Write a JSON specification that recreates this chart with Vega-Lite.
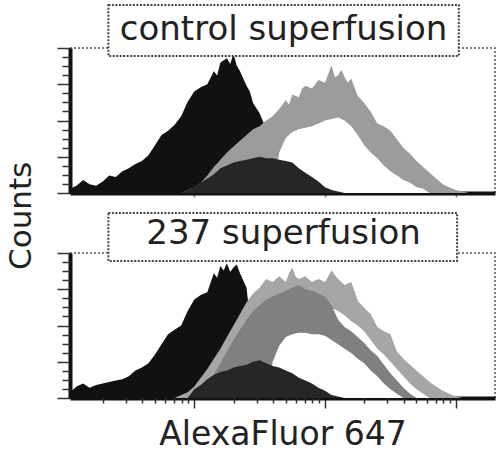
{
  "$schema": "https://vega.github.io/schema/vega-lite/v6.json",
  "bounds": "flush",
  "spacing": 60,
  "padding": {"left": 5, "top": 3, "right": 3, "bottom": 3},
  "background": "white",
  "config": {
    "view": {"stroke": "#555", "strokeWidth": 1.5, "strokeDash": [2, 2]},
    "axis": {"grid": false, "labels": false, "domain": false, "tickColor": "#333", "tickWidth": 1.5}
  },
  "title": {"text": "Counts", "orient": "left", "anchor": "middle", "font": "DejaVu Sans", "fontSize": 31, "fontWeight": "normal", "color": "#222", "offset": 18, "dx": 12},
  "datasets": {
    "hist": [
      {"panel":"top","series":"A","logF":0.05,"count":3},{"panel":"top","series":"A","logF":0.1,"count":5},{"panel":"top","series":"A","logF":0.15,"count":9},{"panel":"top","series":"A","logF":0.2,"count":6},{"panel":"top","series":"A","logF":0.25,"count":5},{"panel":"top","series":"A","logF":0.3,"count":8},{"panel":"top","series":"A","logF":0.35,"count":12},{"panel":"top","series":"A","logF":0.4,"count":11},{"panel":"top","series":"A","logF":0.45,"count":15},{"panel":"top","series":"A","logF":0.5,"count":17},{"panel":"top","series":"A","logF":0.55,"count":20},{"panel":"top","series":"A","logF":0.6,"count":22},{"panel":"top","series":"A","logF":0.65,"count":26},{"panel":"top","series":"A","logF":0.7,"count":33},{"panel":"top","series":"A","logF":0.75,"count":40},{"panel":"top","series":"A","logF":0.8,"count":43},{"panel":"top","series":"A","logF":0.85,"count":47},{"panel":"top","series":"A","logF":0.9,"count":53},{"panel":"top","series":"A","logF":0.95,"count":63},{"panel":"top","series":"A","logF":1.0,"count":70},{"panel":"top","series":"A","logF":1.05,"count":73},{"panel":"top","series":"A","logF":1.1,"count":75},{"panel":"top","series":"A","logF":1.15,"count":84},{"panel":"top","series":"A","logF":1.175,"count":81},{"panel":"top","series":"A","logF":1.2,"count":90},{"panel":"top","series":"A","logF":1.25,"count":93},{"panel":"top","series":"A","logF":1.275,"count":89},{"panel":"top","series":"A","logF":1.3,"count":96},{"panel":"top","series":"A","logF":1.325,"count":88},{"panel":"top","series":"A","logF":1.35,"count":84},{"panel":"top","series":"A","logF":1.375,"count":79},{"panel":"top","series":"A","logF":1.4,"count":74},{"panel":"top","series":"A","logF":1.425,"count":70},{"panel":"top","series":"A","logF":1.45,"count":62},{"panel":"top","series":"A","logF":1.5,"count":55},{"panel":"top","series":"A","logF":1.55,"count":44},{"panel":"top","series":"A","logF":1.6,"count":30},{"panel":"top","series":"A","logF":1.65,"count":18},{"panel":"top","series":"A","logF":1.7,"count":10},{"panel":"top","series":"A","logF":1.75,"count":4},{"panel":"top","series":"A","logF":1.8,"count":1},{"panel":"top","series":"A","logF":1.85,"count":0},

      {"panel":"top","series":"C","logF":0.9,"count":0},{"panel":"top","series":"C","logF":0.95,"count":2},{"panel":"top","series":"C","logF":1.0,"count":4},{"panel":"top","series":"C","logF":1.05,"count":7},{"panel":"top","series":"C","logF":1.1,"count":12},{"panel":"top","series":"C","logF":1.15,"count":18},{"panel":"top","series":"C","logF":1.2,"count":23},{"panel":"top","series":"C","logF":1.25,"count":28},{"panel":"top","series":"C","logF":1.3,"count":32},{"panel":"top","series":"C","logF":1.35,"count":36},{"panel":"top","series":"C","logF":1.4,"count":40},{"panel":"top","series":"C","logF":1.45,"count":44},{"panel":"top","series":"C","logF":1.5,"count":46},{"panel":"top","series":"C","logF":1.55,"count":50},{"panel":"top","series":"C","logF":1.6,"count":53},{"panel":"top","series":"C","logF":1.65,"count":58},{"panel":"top","series":"C","logF":1.7,"count":64},{"panel":"top","series":"C","logF":1.725,"count":61},{"panel":"top","series":"C","logF":1.75,"count":68},{"panel":"top","series":"C","logF":1.8,"count":66},{"panel":"top","series":"C","logF":1.825,"count":72},{"panel":"top","series":"C","logF":1.85,"count":74},{"panel":"top","series":"C","logF":1.9,"count":72},{"panel":"top","series":"C","logF":1.95,"count":78},{"panel":"top","series":"C","logF":2.0,"count":76},{"panel":"top","series":"C","logF":2.025,"count":82},{"panel":"top","series":"C","logF":2.05,"count":88},{"panel":"top","series":"C","logF":2.075,"count":80},{"panel":"top","series":"C","logF":2.1,"count":81},{"panel":"top","series":"C","logF":2.125,"count":85},{"panel":"top","series":"C","logF":2.15,"count":80},{"panel":"top","series":"C","logF":2.175,"count":76},{"panel":"top","series":"C","logF":2.2,"count":79},{"panel":"top","series":"C","logF":2.25,"count":67},{"panel":"top","series":"C","logF":2.3,"count":62},{"panel":"top","series":"C","logF":2.35,"count":56},{"panel":"top","series":"C","logF":2.4,"count":48},{"panel":"top","series":"C","logF":2.45,"count":46},{"panel":"top","series":"C","logF":2.5,"count":43},{"panel":"top","series":"C","logF":2.55,"count":37},{"panel":"top","series":"C","logF":2.6,"count":31},{"panel":"top","series":"C","logF":2.65,"count":27},{"panel":"top","series":"C","logF":2.7,"count":22},{"panel":"top","series":"C","logF":2.75,"count":18},{"panel":"top","series":"C","logF":2.8,"count":14},{"panel":"top","series":"C","logF":2.85,"count":10},{"panel":"top","series":"C","logF":2.9,"count":6},{"panel":"top","series":"C","logF":2.95,"count":4},{"panel":"top","series":"C","logF":3.0,"count":2},{"panel":"top","series":"C","logF":3.05,"count":1},{"panel":"top","series":"C","logF":3.1,"count":0},

      {"panel":"top","series":"D","logF":1.6,"count":0},{"panel":"top","series":"D","logF":1.65,"count":28},{"panel":"top","series":"D","logF":1.7,"count":38},{"panel":"top","series":"D","logF":1.75,"count":42},{"panel":"top","series":"D","logF":1.8,"count":44},{"panel":"top","series":"D","logF":1.85,"count":45},{"panel":"top","series":"D","logF":1.9,"count":46},{"panel":"top","series":"D","logF":1.95,"count":48},{"panel":"top","series":"D","logF":2.0,"count":50},{"panel":"top","series":"D","logF":2.05,"count":51},{"panel":"top","series":"D","logF":2.1,"count":52},{"panel":"top","series":"D","logF":2.15,"count":50},{"panel":"top","series":"D","logF":2.2,"count":46},{"panel":"top","series":"D","logF":2.25,"count":40},{"panel":"top","series":"D","logF":2.3,"count":33},{"panel":"top","series":"D","logF":2.35,"count":28},{"panel":"top","series":"D","logF":2.4,"count":24},{"panel":"top","series":"D","logF":2.45,"count":19},{"panel":"top","series":"D","logF":2.5,"count":15},{"panel":"top","series":"D","logF":2.55,"count":12},{"panel":"top","series":"D","logF":2.6,"count":9},{"panel":"top","series":"D","logF":2.65,"count":7},{"panel":"top","series":"D","logF":2.7,"count":4},{"panel":"top","series":"D","logF":2.75,"count":3},{"panel":"top","series":"D","logF":2.8,"count":0},

      {"panel":"top","series":"B","logF":0.9,"count":0},{"panel":"top","series":"B","logF":1.0,"count":4},{"panel":"top","series":"B","logF":1.05,"count":7},{"panel":"top","series":"B","logF":1.1,"count":10},{"panel":"top","series":"B","logF":1.15,"count":13},{"panel":"top","series":"B","logF":1.2,"count":17},{"panel":"top","series":"B","logF":1.25,"count":19},{"panel":"top","series":"B","logF":1.3,"count":21},{"panel":"top","series":"B","logF":1.35,"count":22},{"panel":"top","series":"B","logF":1.4,"count":23},{"panel":"top","series":"B","logF":1.45,"count":24},{"panel":"top","series":"B","logF":1.5,"count":25},{"panel":"top","series":"B","logF":1.55,"count":24},{"panel":"top","series":"B","logF":1.6,"count":24},{"panel":"top","series":"B","logF":1.65,"count":23},{"panel":"top","series":"B","logF":1.7,"count":22},{"panel":"top","series":"B","logF":1.75,"count":21},{"panel":"top","series":"B","logF":1.8,"count":17},{"panel":"top","series":"B","logF":1.85,"count":14},{"panel":"top","series":"B","logF":1.9,"count":11},{"panel":"top","series":"B","logF":1.95,"count":8},{"panel":"top","series":"B","logF":2.0,"count":4},{"panel":"top","series":"B","logF":2.05,"count":2},{"panel":"top","series":"B","logF":2.1,"count":1},{"panel":"top","series":"B","logF":2.15,"count":0},

      {"panel":"bottom","series":"A","logF":0.05,"count":4},{"panel":"bottom","series":"A","logF":0.1,"count":8},{"panel":"bottom","series":"A","logF":0.15,"count":10},{"panel":"bottom","series":"A","logF":0.2,"count":7},{"panel":"bottom","series":"A","logF":0.25,"count":9},{"panel":"bottom","series":"A","logF":0.3,"count":10},{"panel":"bottom","series":"A","logF":0.35,"count":11},{"panel":"bottom","series":"A","logF":0.4,"count":12},{"panel":"bottom","series":"A","logF":0.45,"count":13},{"panel":"bottom","series":"A","logF":0.5,"count":15},{"panel":"bottom","series":"A","logF":0.55,"count":19},{"panel":"bottom","series":"A","logF":0.6,"count":21},{"panel":"bottom","series":"A","logF":0.65,"count":24},{"panel":"bottom","series":"A","logF":0.7,"count":30},{"panel":"bottom","series":"A","logF":0.75,"count":37},{"panel":"bottom","series":"A","logF":0.8,"count":44},{"panel":"bottom","series":"A","logF":0.85,"count":47},{"panel":"bottom","series":"A","logF":0.9,"count":50},{"panel":"bottom","series":"A","logF":0.95,"count":60},{"panel":"bottom","series":"A","logF":1.0,"count":68},{"panel":"bottom","series":"A","logF":1.05,"count":71},{"panel":"bottom","series":"A","logF":1.1,"count":73},{"panel":"bottom","series":"A","logF":1.15,"count":86},{"panel":"bottom","series":"A","logF":1.175,"count":83},{"panel":"bottom","series":"A","logF":1.2,"count":91},{"panel":"bottom","series":"A","logF":1.225,"count":88},{"panel":"bottom","series":"A","logF":1.25,"count":93},{"panel":"bottom","series":"A","logF":1.275,"count":87},{"panel":"bottom","series":"A","logF":1.3,"count":90},{"panel":"bottom","series":"A","logF":1.325,"count":92},{"panel":"bottom","series":"A","logF":1.35,"count":86},{"panel":"bottom","series":"A","logF":1.4,"count":76},{"panel":"bottom","series":"A","logF":1.45,"count":35},{"panel":"bottom","series":"A","logF":1.5,"count":28},{"panel":"bottom","series":"A","logF":1.55,"count":20},{"panel":"bottom","series":"A","logF":1.6,"count":12},{"panel":"bottom","series":"A","logF":1.65,"count":5},{"panel":"bottom","series":"A","logF":1.7,"count":0},

      {"panel":"bottom","series":"C","logF":0.85,"count":0},{"panel":"bottom","series":"C","logF":0.9,"count":2},{"panel":"bottom","series":"C","logF":0.95,"count":4},{"panel":"bottom","series":"C","logF":1.0,"count":8},{"panel":"bottom","series":"C","logF":1.05,"count":14},{"panel":"bottom","series":"C","logF":1.1,"count":20},{"panel":"bottom","series":"C","logF":1.15,"count":27},{"panel":"bottom","series":"C","logF":1.2,"count":34},{"panel":"bottom","series":"C","logF":1.25,"count":42},{"panel":"bottom","series":"C","logF":1.3,"count":50},{"panel":"bottom","series":"C","logF":1.35,"count":58},{"panel":"bottom","series":"C","logF":1.4,"count":66},{"panel":"bottom","series":"C","logF":1.45,"count":72},{"panel":"bottom","series":"C","logF":1.5,"count":76},{"panel":"bottom","series":"C","logF":1.55,"count":82},{"panel":"bottom","series":"C","logF":1.6,"count":80},{"panel":"bottom","series":"C","logF":1.65,"count":84},{"panel":"bottom","series":"C","logF":1.7,"count":80},{"panel":"bottom","series":"C","logF":1.725,"count":86},{"panel":"bottom","series":"C","logF":1.75,"count":90},{"panel":"bottom","series":"C","logF":1.775,"count":84},{"panel":"bottom","series":"C","logF":1.8,"count":82},{"panel":"bottom","series":"C","logF":1.85,"count":84},{"panel":"bottom","series":"C","logF":1.9,"count":80},{"panel":"bottom","series":"C","logF":1.95,"count":82},{"panel":"bottom","series":"C","logF":2.0,"count":80},{"panel":"bottom","series":"C","logF":2.025,"count":84},{"panel":"bottom","series":"C","logF":2.05,"count":88},{"panel":"bottom","series":"C","logF":2.1,"count":82},{"panel":"bottom","series":"C","logF":2.15,"count":78},{"panel":"bottom","series":"C","logF":2.2,"count":80},{"panel":"bottom","series":"C","logF":2.225,"count":74},{"panel":"bottom","series":"C","logF":2.25,"count":67},{"panel":"bottom","series":"C","logF":2.3,"count":62},{"panel":"bottom","series":"C","logF":2.35,"count":58},{"panel":"bottom","series":"C","logF":2.4,"count":49},{"panel":"bottom","series":"C","logF":2.45,"count":46},{"panel":"bottom","series":"C","logF":2.5,"count":44},{"panel":"bottom","series":"C","logF":2.55,"count":32},{"panel":"bottom","series":"C","logF":2.6,"count":27},{"panel":"bottom","series":"C","logF":2.65,"count":23},{"panel":"bottom","series":"C","logF":2.7,"count":19},{"panel":"bottom","series":"C","logF":2.75,"count":15},{"panel":"bottom","series":"C","logF":2.8,"count":11},{"panel":"bottom","series":"C","logF":2.85,"count":8},{"panel":"bottom","series":"C","logF":2.9,"count":5},{"panel":"bottom","series":"C","logF":2.95,"count":3},{"panel":"bottom","series":"C","logF":3.0,"count":1},{"panel":"bottom","series":"C","logF":3.05,"count":0},

      {"panel":"bottom","series":"W1","logF":1.2,"count":0},{"panel":"bottom","series":"W1","logF":1.3,"count":15},{"panel":"bottom","series":"W1","logF":1.4,"count":30},{"panel":"bottom","series":"W1","logF":1.5,"count":45},{"panel":"bottom","series":"W1","logF":1.6,"count":55},{"panel":"bottom","series":"W1","logF":1.7,"count":60},{"panel":"bottom","series":"W1","logF":1.8,"count":62},{"panel":"bottom","series":"W1","logF":1.9,"count":63},{"panel":"bottom","series":"W1","logF":2.0,"count":63},{"panel":"bottom","series":"W1","logF":2.05,"count":62},{"panel":"bottom","series":"W1","logF":2.1,"count":60},{"panel":"bottom","series":"W1","logF":2.15,"count":57},{"panel":"bottom","series":"W1","logF":2.2,"count":53},{"panel":"bottom","series":"W1","logF":2.25,"count":50},{"panel":"bottom","series":"W1","logF":2.3,"count":46},{"panel":"bottom","series":"W1","logF":2.35,"count":40},{"panel":"bottom","series":"W1","logF":2.4,"count":34},{"panel":"bottom","series":"W1","logF":2.45,"count":30},{"panel":"bottom","series":"W1","logF":2.5,"count":25},{"panel":"bottom","series":"W1","logF":2.55,"count":20},{"panel":"bottom","series":"W1","logF":2.6,"count":15},{"panel":"bottom","series":"W1","logF":2.65,"count":10},{"panel":"bottom","series":"W1","logF":2.7,"count":6},{"panel":"bottom","series":"W1","logF":2.75,"count":3},{"panel":"bottom","series":"W1","logF":2.8,"count":0},

      {"panel":"bottom","series":"C2","logF":0.95,"count":0},{"panel":"bottom","series":"C2","logF":1.0,"count":3},{"panel":"bottom","series":"C2","logF":1.05,"count":6},{"panel":"bottom","series":"C2","logF":1.1,"count":10},{"panel":"bottom","series":"C2","logF":1.15,"count":16},{"panel":"bottom","series":"C2","logF":1.2,"count":24},{"panel":"bottom","series":"C2","logF":1.25,"count":32},{"panel":"bottom","series":"C2","logF":1.3,"count":40},{"panel":"bottom","series":"C2","logF":1.35,"count":47},{"panel":"bottom","series":"C2","logF":1.4,"count":54},{"panel":"bottom","series":"C2","logF":1.45,"count":60},{"panel":"bottom","series":"C2","logF":1.5,"count":64},{"panel":"bottom","series":"C2","logF":1.55,"count":68},{"panel":"bottom","series":"C2","logF":1.6,"count":70},{"panel":"bottom","series":"C2","logF":1.65,"count":72},{"panel":"bottom","series":"C2","logF":1.7,"count":74},{"panel":"bottom","series":"C2","logF":1.75,"count":76},{"panel":"bottom","series":"C2","logF":1.8,"count":78},{"panel":"bottom","series":"C2","logF":1.85,"count":75},{"panel":"bottom","series":"C2","logF":1.9,"count":74},{"panel":"bottom","series":"C2","logF":1.95,"count":72},{"panel":"bottom","series":"C2","logF":2.0,"count":70},{"panel":"bottom","series":"C2","logF":2.05,"count":64},{"panel":"bottom","series":"C2","logF":2.1,"count":54},{"panel":"bottom","series":"C2","logF":2.15,"count":49},{"panel":"bottom","series":"C2","logF":2.2,"count":46},{"panel":"bottom","series":"C2","logF":2.25,"count":42},{"panel":"bottom","series":"C2","logF":2.3,"count":38},{"panel":"bottom","series":"C2","logF":2.35,"count":33},{"panel":"bottom","series":"C2","logF":2.4,"count":29},{"panel":"bottom","series":"C2","logF":2.45,"count":23},{"panel":"bottom","series":"C2","logF":2.5,"count":17},{"panel":"bottom","series":"C2","logF":2.55,"count":12},{"panel":"bottom","series":"C2","logF":2.6,"count":7},{"panel":"bottom","series":"C2","logF":2.65,"count":3},{"panel":"bottom","series":"C2","logF":2.7,"count":0},

      {"panel":"bottom","series":"W2","logF":1.55,"count":0},{"panel":"bottom","series":"W2","logF":1.6,"count":25},{"panel":"bottom","series":"W2","logF":1.65,"count":36},{"panel":"bottom","series":"W2","logF":1.7,"count":42},{"panel":"bottom","series":"W2","logF":1.75,"count":44},{"panel":"bottom","series":"W2","logF":1.8,"count":45},{"panel":"bottom","series":"W2","logF":1.85,"count":45},{"panel":"bottom","series":"W2","logF":1.9,"count":44},{"panel":"bottom","series":"W2","logF":1.95,"count":44},{"panel":"bottom","series":"W2","logF":2.0,"count":43},{"panel":"bottom","series":"W2","logF":2.05,"count":40},{"panel":"bottom","series":"W2","logF":2.1,"count":37},{"panel":"bottom","series":"W2","logF":2.15,"count":34},{"panel":"bottom","series":"W2","logF":2.2,"count":31},{"panel":"bottom","series":"W2","logF":2.25,"count":27},{"panel":"bottom","series":"W2","logF":2.3,"count":24},{"panel":"bottom","series":"W2","logF":2.35,"count":19},{"panel":"bottom","series":"W2","logF":2.4,"count":15},{"panel":"bottom","series":"W2","logF":2.45,"count":10},{"panel":"bottom","series":"W2","logF":2.5,"count":6},{"panel":"bottom","series":"W2","logF":2.55,"count":3},{"panel":"bottom","series":"W2","logF":2.6,"count":0},

      {"panel":"bottom","series":"B","logF":0.95,"count":0},{"panel":"bottom","series":"B","logF":1.0,"count":6},{"panel":"bottom","series":"B","logF":1.05,"count":9},{"panel":"bottom","series":"B","logF":1.1,"count":13},{"panel":"bottom","series":"B","logF":1.15,"count":16},{"panel":"bottom","series":"B","logF":1.2,"count":18},{"panel":"bottom","series":"B","logF":1.25,"count":19},{"panel":"bottom","series":"B","logF":1.3,"count":21},{"panel":"bottom","series":"B","logF":1.35,"count":22},{"panel":"bottom","series":"B","logF":1.4,"count":23},{"panel":"bottom","series":"B","logF":1.45,"count":25},{"panel":"bottom","series":"B","logF":1.5,"count":26},{"panel":"bottom","series":"B","logF":1.55,"count":24},{"panel":"bottom","series":"B","logF":1.6,"count":22},{"panel":"bottom","series":"B","logF":1.65,"count":21},{"panel":"bottom","series":"B","logF":1.7,"count":19},{"panel":"bottom","series":"B","logF":1.75,"count":17},{"panel":"bottom","series":"B","logF":1.8,"count":14},{"panel":"bottom","series":"B","logF":1.85,"count":12},{"panel":"bottom","series":"B","logF":1.9,"count":10},{"panel":"bottom","series":"B","logF":1.95,"count":7},{"panel":"bottom","series":"B","logF":2.0,"count":5},{"panel":"bottom","series":"B","logF":2.05,"count":2},{"panel":"bottom","series":"B","logF":2.1,"count":1},{"panel":"bottom","series":"B","logF":2.15,"count":0}
    ]
  },
  "vconcat": [
    {
      "width": 425,
      "height": 145,
      "layer": [
        {"data": {"name": "hist"}, "transform": [{"filter": "datum.panel === 'top' && datum.series === 'A'"}], "mark": {"type": "area", "color": "#111111"},
         "encoding": {
           "x": {"field": "logF", "type": "quantitative", "scale": {"domain": [0.05, 3.3], "nice": false, "zero": false}, "axis": {"orient": "bottom", "domain": true, "domainColor": "#111", "domainWidth": 4, "values": [1, 2, 3], "tickSize": 4, "tickColor": "#777", "title": null}},
           "y": {"field": "count", "type": "quantitative", "stack": null, "scale": {"domain": [0, 100], "nice": false}, "axis": {"orient": "left", "domain": true, "domainColor": "#111", "domainWidth": 4, "values": [0, 25, 50, 75, 100], "tickSize": 13, "title": null}}
         }},
        {"data": {"name": "hist"}, "transform": [{"filter": "datum.panel === 'top' && datum.series === 'C'"}], "mark": {"type": "area", "color": "#9c9c9c"},
         "encoding": {
           "x": {"field": "logF", "type": "quantitative", "axis": null},
           "y": {"field": "count", "type": "quantitative", "stack": null, "axis": {"orient": "left", "values": [6.25, 12.5, 18.75, 31.25, 37.5, 43.75, 56.25, 62.5, 68.75, 81.25, 87.5, 93.75], "tickSize": 8, "title": null}}
         }},
        {"data": {"name": "hist"}, "transform": [{"filter": "datum.panel === 'top' && datum.series === 'D'"}], "mark": {"type": "area", "color": "#ffffff"},
         "encoding": {"x": {"field": "logF", "type": "quantitative", "axis": null}, "y": {"field": "count", "type": "quantitative", "stack": null, "axis": null}}},
        {"data": {"name": "hist"}, "transform": [{"filter": "datum.panel === 'top' && datum.series === 'B'"}], "mark": {"type": "area", "color": "#262626"},
         "encoding": {"x": {"field": "logF", "type": "quantitative", "axis": null}, "y": {"field": "count", "type": "quantitative", "stack": null, "axis": null}}},
        {"data": {"values": [{"label": "control superfusion"}]},
         "mark": {"type": "rect", "fill": "white", "stroke": "#444", "strokeWidth": 2, "strokeDash": [2, 1.5]},
         "encoding": {"x": {"datum": 0.3435, "type": "quantitative", "axis": null}, "x2": {"datum": 3.023}, "y": {"datum": 129.7, "type": "quantitative", "axis": null}, "y2": {"datum": 94.5}}},
        {"data": {"values": [{"label": "control superfusion"}]},
         "mark": {"type": "text", "font": "DejaVu Sans", "fontSize": 34, "color": "#222", "align": "center", "baseline": "alphabetic"},
         "encoding": {"x": {"datum": 1.683, "type": "quantitative", "axis": null}, "y": {"datum": 105.5, "type": "quantitative", "axis": null}, "text": {"field": "label"}}}
      ],
      "resolve": {"axis": {"x": "independent", "y": "independent"}}
    },
    {
      "width": 425,
      "height": 145,
      "layer": [
        {"data": {"name": "hist"}, "transform": [{"filter": "datum.panel === 'bottom' && datum.series === 'A'"}], "mark": {"type": "area", "color": "#111111"},
         "encoding": {
           "x": {"field": "logF", "type": "quantitative", "scale": {"domain": [0.05, 3.3], "nice": false, "zero": false}, "axis": {"orient": "bottom", "domain": true, "domainColor": "#111", "domainWidth": 4, "values": [1, 2, 3], "tickSize": 10, "title": "AlexaFluor 647", "titleFont": "DejaVu Sans", "titleFontSize": 33, "titleFontWeight": "normal", "titleColor": "#222", "titlePadding": 10}},
           "y": {"field": "count", "type": "quantitative", "stack": null, "scale": {"domain": [0, 100], "nice": false}, "axis": {"orient": "left", "domain": true, "domainColor": "#111", "domainWidth": 4, "values": [0, 25, 50, 75, 100], "tickSize": 13, "title": null}}
         }},
        {"data": {"name": "hist"}, "transform": [{"filter": "datum.panel === 'bottom' && datum.series === 'C'"}], "mark": {"type": "area", "color": "#a6a6a6"},
         "encoding": {
           "x": {"field": "logF", "type": "quantitative", "axis": {"orient": "bottom", "values": [0.301, 0.477, 0.602, 0.699, 0.778, 0.845, 0.903, 0.954, 1.301, 1.477, 1.602, 1.699, 1.778, 1.845, 1.903, 1.954, 2.301, 2.477, 2.602, 2.699, 2.778, 2.845, 2.903, 2.954], "tickSize": 5, "title": null}},
           "y": {"field": "count", "type": "quantitative", "stack": null, "axis": {"orient": "left", "values": [6.25, 12.5, 18.75, 31.25, 37.5, 43.75, 56.25, 62.5, 68.75, 81.25, 87.5, 93.75], "tickSize": 8, "title": null}}
         }},
        {"data": {"name": "hist"}, "transform": [{"filter": "datum.panel === 'bottom' && datum.series === 'W1'"}], "mark": {"type": "area", "color": "#ffffff"},
         "encoding": {"x": {"field": "logF", "type": "quantitative", "axis": null}, "y": {"field": "count", "type": "quantitative", "stack": null, "axis": null}}},
        {"data": {"name": "hist"}, "transform": [{"filter": "datum.panel === 'bottom' && datum.series === 'C2'"}], "mark": {"type": "area", "color": "#808080"},
         "encoding": {"x": {"field": "logF", "type": "quantitative", "axis": null}, "y": {"field": "count", "type": "quantitative", "stack": null, "axis": null}}},
        {"data": {"name": "hist"}, "transform": [{"filter": "datum.panel === 'bottom' && datum.series === 'W2'"}], "mark": {"type": "area", "color": "#ffffff"},
         "encoding": {"x": {"field": "logF", "type": "quantitative", "axis": null}, "y": {"field": "count", "type": "quantitative", "stack": null, "axis": null}}},
        {"data": {"name": "hist"}, "transform": [{"filter": "datum.panel === 'bottom' && datum.series === 'B'"}], "mark": {"type": "area", "color": "#262626"},
         "encoding": {"x": {"field": "logF", "type": "quantitative", "axis": null}, "y": {"field": "count", "type": "quantitative", "stack": null, "axis": null}}},
        {"data": {"values": [{"label": "237 superfusion"}]},
         "mark": {"type": "rect", "fill": "white", "stroke": "#444", "strokeWidth": 2, "strokeDash": [2, 1.5]},
         "encoding": {"x": {"datum": 0.3435, "type": "quantitative", "axis": null}, "x2": {"datum": 3.01}, "y": {"datum": 127.6, "type": "quantitative", "axis": null}, "y2": {"datum": 94.5}}},
        {"data": {"values": [{"label": "237 superfusion"}]},
         "mark": {"type": "text", "font": "DejaVu Sans", "fontSize": 34, "color": "#222", "align": "center", "baseline": "alphabetic"},
         "encoding": {"x": {"datum": 1.683, "type": "quantitative", "axis": null}, "y": {"datum": 106.2, "type": "quantitative", "axis": null}, "text": {"field": "label"}}}
      ],
      "resolve": {"axis": {"x": "independent", "y": "independent"}}
    }
  ]
}
